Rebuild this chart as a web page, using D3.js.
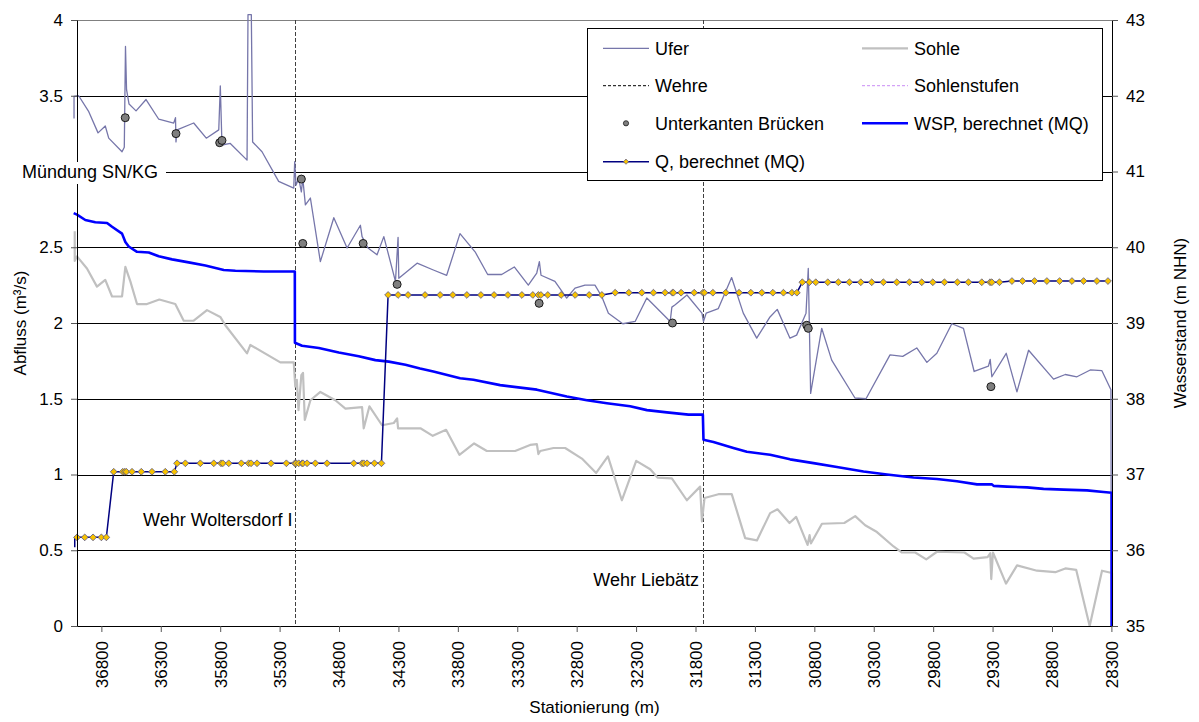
<!DOCTYPE html>
<html>
<head>
<meta charset="utf-8">
<script src="https://cdn.jsdelivr.net/npm/d3@7"></script>
<style>
  html, body { margin: 0; padding: 0; background: #fff; }
  svg { display: block; font-family: "Liberation Sans", Arial, sans-serif; }
</style>
</head>
<body>
<svg id="chart" width="1199" height="722"></svg>
<script>
// ---- axis ticks ----
const stationTicks = [36800, 36300, 35800, 35300, 34800, 34300, 33800, 33300, 32800, 32300, 31800, 31300, 30800, 30300, 29800, 29300, 28800, 28300];
const flowTicks = [0, 0.5, 1, 1.5, 2, 2.5, 3, 3.5, 4];
const levelTicks = [35, 36, 37, 38, 39, 40, 41, 42, 43];

// ---- weirs (station, m) ----
const weirs = [35172, 31740];

// ---- Ufer: [station m, m NHN] ----
const ufer = [
  [37030,41.70],[37030,41.99],[36991,42.00],[36906,41.79],[36828,41.51],[36767,41.60],[36738,41.44],[36626,41.26],
  [36607,41.32],[36597,42.65],[36588,42.08],[36567,41.89],[36508,41.80],[36424,41.95],[36317,41.69],[36191,41.64],
  [36176,41.71],[36172,41.39],[36163,41.55],[36023,41.64],[35917,41.44],[35812,41.55],[35799,42.13],[35785,41.35],
  [35715,41.37],[35574,41.15],[35566,43.07],[35538,43.07],[35527,41.39],[35448,41.26],[35308,40.87],[35181,40.78],
  [35173,41.13],[35162,40.82],[35139,40.91],[35117,40.73],[35105,40.91],[35083,40.56],[35041,40.65],[34957,39.81],
  [34844,40.39],[34732,39.99],[34620,40.29],[34606,40.14],[34556,39.99],[34480,39.90],[34423,40.14],[34325,39.55],
  [34303,40.13],[34297,39.59],[34143,39.79],[34006,39.70],[33894,39.63],[33782,40.18],[33655,39.94],[33549,39.64],
  [33431,39.64],[33325,39.74],[33207,39.50],[33136,39.66],[33114,39.81],[33100,39.63],[32983,39.55],[32884,39.33],
  [32814,39.46],[32730,39.50],[32646,39.50],[32589,39.35],[32533,39.13],[32412,38.99],[32308,39.02],[32210,39.33],
  [32013,39.02],[31999,39.21],[31971,39.24],[31872,39.37],[31746,39.13],[31733,39.02],[31710,39.13],[31608,39.19],
  [31496,39.60],[31398,39.13],[31285,38.80],[31173,39.08],[31112,39.18],[31005,38.80],[30949,38.84],[30870,39.13],
  [30851,39.72],[30831,38.07],[30738,38.93],[30654,38.51],[30458,38.01],[30365,38.00],[30163,38.58],[30056,38.56],
  [29938,38.67],[29853,38.48],[29769,38.60],[29643,38.99],[29545,38.93],[29455,38.36],[29335,38.43],[29320,38.52],
  [29306,38.29],[29185,38.60],[29095,38.09],[28997,38.64],[28787,38.26],[28688,38.32],[28590,38.29],[28478,38.38],
  [28380,38.37],[28304,38.12],[28300,35.00]
];

// ---- Sohle: [station m, m NHN] ----
const sohle = [
  [37024,40.21],[37024,39.82],[37005,39.88],[36921,39.72],[36837,39.48],[36767,39.57],[36710,39.35],[36626,39.35],
  [36598,39.74],[36556,39.55],[36500,39.25],[36416,39.25],[36312,39.31],[36178,39.25],[36107,39.03],[36023,39.03],
  [35911,39.17],[35799,39.08],[35757,38.97],[35574,38.60],[35546,38.71],[35294,38.48],[35181,38.48],[35168,38.16],
  [35155,38.25],[35141,37.85],[35117,38.31],[35103,38.34],[35088,37.72],[35041,37.98],[34957,38.09],[34831,37.98],
  [34746,37.87],[34606,37.89],[34592,37.61],[34544,37.90],[34438,37.65],[34339,37.68],[34311,37.74],[34303,37.61],
  [34115,37.61],[34011,37.51],[33899,37.59],[33787,37.26],[33663,37.41],[33556,37.31],[33318,37.31],[33192,37.39],
  [33135,37.40],[33122,37.27],[33107,37.31],[32995,37.35],[32897,37.35],[32756,37.21],[32636,37.02],[32537,37.24],
  [32420,36.66],[32299,37.18],[32181,37.07],[32120,36.96],[31999,36.95],[31873,36.66],[31761,36.84],[31746,36.38],
  [31724,36.69],[31607,36.74],[31495,36.74],[31382,36.16],[31283,36.13],[31172,36.49],[31110,36.54],[31009,36.36],
  [30953,36.44],[30857,36.07],[30840,36.20],[30829,36.09],[30736,36.35],[30548,36.36],[30456,36.45],[30372,36.33],
  [30273,36.24],[30133,36.05],[30063,35.97],[29951,35.97],[29858,35.88],[29768,35.98],[29536,35.97],[29460,35.89],
  [29342,35.91],[29320,35.96],[29311,35.62],[29297,35.97],[29187,35.56],[29094,35.80],[28926,35.73],[28772,35.71],
  [28688,35.76],[28596,35.74],[28483,35.00],[28379,35.73],[28295,35.70],[28295,35.00]
];

// ---- Unterkanten Brücken: [station m, m NHN] ----
const bruecken = [
  [36599,41.71],[36172,41.50],[35804,41.38],[35785,41.41],[35117,40.90],[35105,40.05],[34597,40.05],
  [34311,39.51],[33116,39.26],[31994,39.00],[30864,38.97],[30851,38.93],[29314,38.16]
];

// ---- WSP, berechnet (MQ): [station m, m NHN] ----
const wsp = [
  [37033,40.45],[37005,40.43],[36935,40.36],[36851,40.33],[36752,40.32],[36710,40.27],[36626,40.18],[36598,40.07],
  [36570,40.01],[36500,39.94],[36401,39.93],[36317,39.88],[36205,39.84],[36065,39.80],[35925,39.76],[35770,39.70],
  [35672,39.69],[35433,39.68],[35172,39.68],[35171,38.74],[35111,38.70],[34970,38.67],[34802,38.61],[34634,38.56],
  [34494,38.51],[34381,38.49],[34241,38.45],[34118,38.40],[34006,38.36],[33781,38.27],[33669,38.25],[33444,38.18],
  [33135,38.12],[32883,38.03],[32714,37.98],[32546,37.94],[32350,37.90],[32209,37.85],[32041,37.82],[31859,37.79],
  [31738,37.79],[31733,37.46],[31649,37.43],[31481,37.35],[31368,37.30],[31172,37.26],[31004,37.20],[30807,37.15],
  [30610,37.10],[30386,37.04],[30189,37.00],[29965,36.96],[29768,36.94],[29600,36.91],[29431,36.87],[29305,36.87],
  [29291,36.85],[29179,36.84],[29010,36.83],[28871,36.81],[28702,36.80],[28505,36.79],[28366,36.77],[28298,36.76],
  [28298,35.00]
];

// ---- Q, berechnet (MQ): [station m, m³/s] ----
const abfluss = [
  [37024,0.52],[37024,0.585],[37005,0.585],[36940,0.585],[36870,0.585],[36800,0.585],[36758,0.585],
  [36696,1.018],[36620,1.018],[36603,1.018],[36590,1.018],[36542,1.018],[36464,1.018],[36374,1.018],[36262,1.018],[36186,1.018],
  [36163,1.074],[36093,1.074],[35967,1.074],[35854,1.074],[35793,1.074],[35778,1.074],[35728,1.074],[35622,1.074],
  [35560,1.074],[35540,1.074],[35490,1.074],[35372,1.074],[35243,1.074],[35172,1.074],[35161,1.074],[35139,1.074],
  [35111,1.074],[35103,1.074],[35069,1.074],[34999,1.074],[34901,1.074],[34676,1.074],[34606,1.074],[34592,1.074],
  [34564,1.074],[34502,1.074],[34443,1.074],
  [34387,2.185],[34303,2.185],[34219,2.185],[34076,2.185],[33949,2.185],[33842,2.185],[33724,2.185],[33606,2.185],
  [33495,2.185],[33379,2.185],[33261,2.185],[33169,2.185],[33122,2.185],[33101,2.185],[33043,2.185],[32931,2.185],
  [32813,2.185],[32695,2.185],[32588,2.185],
  [32476,2.2],[32361,2.2],[32252,2.2],[32154,2.2],[32056,2.2],[31994,2.2],[31986,2.2],[31921,2.2],[31811,2.2],
  [31738,2.2],[31725,2.2],[31654,2.2],[31545,2.2],[31433,2.2],[31334,2.2],[31242,2.2],[31149,2.2],[31060,2.2],
  [30989,2.2],[30947,2.2],
  [30901,2.269],[30842,2.269],[30788,2.269],[30687,2.269],[30598,2.269],[30505,2.269],[30409,2.269],[30317,2.269],
  [30219,2.269],[30106,2.269],[30000,2.269],[29896,2.269],[29803,2.269],[29705,2.269],[29596,2.269],[29503,2.269],
  [29391,2.269],[29321,2.269],[29306,2.269],[29242,2.269],
  [29137,2.277],[29048,2.277],[28947,2.277],[28843,2.277],[28736,2.277],[28632,2.277],[28534,2.277],[28422,2.277],[28329,2.277]
];

// ---- layout ----
const svg = d3.select("#chart");
const L = 77, R = 1112, T = 20, B = 626;
const FONT = "'Liberation Sans', Arial, sans-serif";

const x = d3.scaleLinear().domain([37005, 28295]).range([L, R]);
const yQ = d3.scaleLinear().domain([0, 4]).range([B, T]);
const yW = d3.scaleLinear().domain([35, 43]).range([B, T]);

const lineW = d3.line().x(d => x(d[0])).y(d => yW(d[1]));
const lineQ = d3.line().x(d => x(d[0])).y(d => yQ(d[1]));

// horizontal gridlines
svg.append("g").selectAll("line")
  .data(flowTicks.filter(v => v > 0))
  .join("line")
  .attr("x1", L).attr("x2", R)
  .attr("y1", d => Math.round(yQ(d)) + 0.5).attr("y2", d => Math.round(yQ(d)) + 0.5)
  .attr("stroke", d => d === 4 ? "#808080" : "#000")
  .attr("stroke-width", 1);

// weirs
svg.append("g").selectAll("line")
  .data(weirs)
  .join("line")
  .attr("x1", d => Math.round(x(d)) + 0.5).attr("x2", d => Math.round(x(d)) + 0.5)
  .attr("y1", T).attr("y2", B)
  .attr("stroke", "#404040").attr("stroke-width", 1)
  .attr("stroke-dasharray", "4,2");

// Ufer
svg.append("path").datum(ufer)
  .attr("d", lineW).attr("fill", "none")
  .attr("stroke", "#7676aa").attr("stroke-width", 1.3).attr("stroke-linejoin", "round");

// Sohle
svg.append("path").datum(sohle)
  .attr("d", lineW).attr("fill", "none")
  .attr("stroke", "#c0c0c0").attr("stroke-width", 2.2).attr("stroke-linejoin", "round");

// WSP
svg.append("path").datum(wsp)
  .attr("d", lineW).attr("fill", "none")
  .attr("stroke", "#0000ff").attr("stroke-width", 2.6).attr("stroke-linejoin", "round");

// Q line
svg.append("path").datum(abfluss)
  .attr("d", lineQ).attr("fill", "none")
  .attr("stroke", "#000080").attr("stroke-width", 1.5);

// Q markers (only inside the station range)
const diamond = "M0,-3.4L3.4,0L0,3.4L-3.4,0Z";
svg.append("g").selectAll("path")
  .data(abfluss.filter(d => d[0] <= x.domain()[0]))
  .join("path")
  .attr("d", diamond)
  .attr("transform", d => `translate(${x(d[0])},${yQ(d[1])})`)
  .attr("fill", "#f7c200").attr("stroke", "#55558a").attr("stroke-width", 0.8);

// bridges
svg.append("g").selectAll("circle")
  .data(bruecken)
  .join("circle")
  .attr("cx", d => x(d[0])).attr("cy", d => yW(d[1])).attr("r", 4)
  .attr("fill", "#7f7f7f").attr("stroke", "#1a1a1a").attr("stroke-width", 1);

// ---- axes ----
function styleAxis(g) {
  g.attr("font-family", FONT).attr("font-size", 17);
  g.selectAll(".domain").attr("stroke", "#000");
  g.selectAll(".tick line").attr("stroke", "#555");
  g.selectAll(".tick text").attr("fill", "#000");
}

const xAxis = svg.append("g")
  .attr("transform", `translate(0,${B})`)
  .call(d3.axisBottom(x).tickValues(stationTicks).tickSize(6).tickSizeOuter(0).tickFormat(d3.format("d")))
  .call(styleAxis);
xAxis.selectAll(".tick text")
  .attr("transform", "rotate(-90)")
  .attr("text-anchor", "end")
  .attr("x", -15).attr("y", 0).attr("dy", "0.35em");

// the "3" label sits under the river-mouth caption, so it is left blank
const fmtFlow = d3.format("~g");
svg.append("g")
  .attr("transform", `translate(${L},0)`)
  .call(d3.axisLeft(yQ).tickValues(flowTicks).tickSize(6).tickSizeOuter(0).tickPadding(8)
    .tickFormat(d => d === 3 ? "" : fmtFlow(d)))
  .call(styleAxis);

svg.append("g")
  .attr("transform", `translate(${R},0)`)
  .call(d3.axisRight(yW).tickValues(levelTicks).tickSize(6).tickSizeOuter(0).tickPadding(8))
  .call(styleAxis);

// axis titles
svg.append("text")
  .attr("transform", `translate(20,${(T + B) / 2}) rotate(-90)`)
  .attr("text-anchor", "middle").attr("dy", "0.35em")
  .attr("font-size", 17).text("Abfluss (m³/s)");
svg.append("text")
  .attr("transform", `translate(1180,${(T + B) / 2}) rotate(-90)`)
  .attr("text-anchor", "middle").attr("dy", "0.35em")
  .attr("font-size", 17).text("Wasserstand (m NHN)");
svg.append("text")
  .attr("x", (L + R) / 2).attr("y", 713)
  .attr("text-anchor", "middle")
  .attr("font-size", 17).text("Stationierung (m)");

// annotations
svg.append("rect").attr("x", 18).attr("y", 162).attr("width", 148).attr("height", 22).attr("fill", "#fff");
svg.append("text").attr("x", 22).attr("y", 178).attr("font-size", 18).text("Mündung SN/KG");
svg.append("text").attr("x", 143).attr("y", 526).attr("font-size", 18).text("Wehr Woltersdorf I");
svg.append("text").attr("x", 699).attr("y", 586).attr("text-anchor", "end").attr("font-size", 18).text("Wehr Liebätz");

// ---- legend ----
const lg = svg.append("g").attr("transform", "translate(587,28)");
lg.append("rect").attr("x", 0.5).attr("y", 0.5).attr("width", 515).attr("height", 152)
  .attr("fill", "#fff").attr("stroke", "#000").attr("stroke-width", 1);

const rows = [20.3, 57.7, 95.3, 133.7];
const col1 = 16, col2 = 275, lineLen = 46, textGap = 52;

function legendLine(cx, cy, color, width, dash) {
  lg.append("line").attr("x1", cx).attr("x2", cx + lineLen).attr("y1", cy).attr("y2", cy)
    .attr("stroke", color).attr("stroke-width", width).attr("stroke-dasharray", dash || null);
}
function legendText(cx, cy, label) {
  lg.append("text").attr("x", cx + textGap).attr("y", cy).attr("dy", "0.36em")
    .attr("font-size", 18).text(label);
}

legendLine(col1, rows[0], "#7676aa", 1.3);
legendText(col1, rows[0], "Ufer");
legendLine(col2, rows[0], "#c0c0c0", 2.2);
legendText(col2, rows[0], "Sohle");

legendLine(col1, rows[1], "#000", 1, "3,2");
legendText(col1, rows[1], "Wehre");
legendLine(col2, rows[1], "#c98cf5", 1, "3,2");
legendText(col2, rows[1], "Sohlenstufen");

lg.append("circle").attr("cx", col1 + lineLen / 2).attr("cy", rows[2]).attr("r", 2.6)
  .attr("fill", "#7f7f7f").attr("stroke", "#1a1a1a").attr("stroke-width", 0.8);
legendText(col1, rows[2], "Unterkanten Brücken");
legendLine(col2, rows[2], "#0000ff", 2.6);
legendText(col2, rows[2], "WSP, berechnet (MQ)");

legendLine(col1, rows[3], "#000080", 1.5);
lg.append("path").attr("d", "M0,-2.6L2.6,0L0,2.6L-2.6,0Z")
  .attr("transform", `translate(${col1 + lineLen / 2},${rows[3]})`)
  .attr("fill", "#f7c200").attr("stroke", "#55558a").attr("stroke-width", 0.7);
legendText(col1, rows[3], "Q, berechnet (MQ)");
</script>
</body>
</html>
